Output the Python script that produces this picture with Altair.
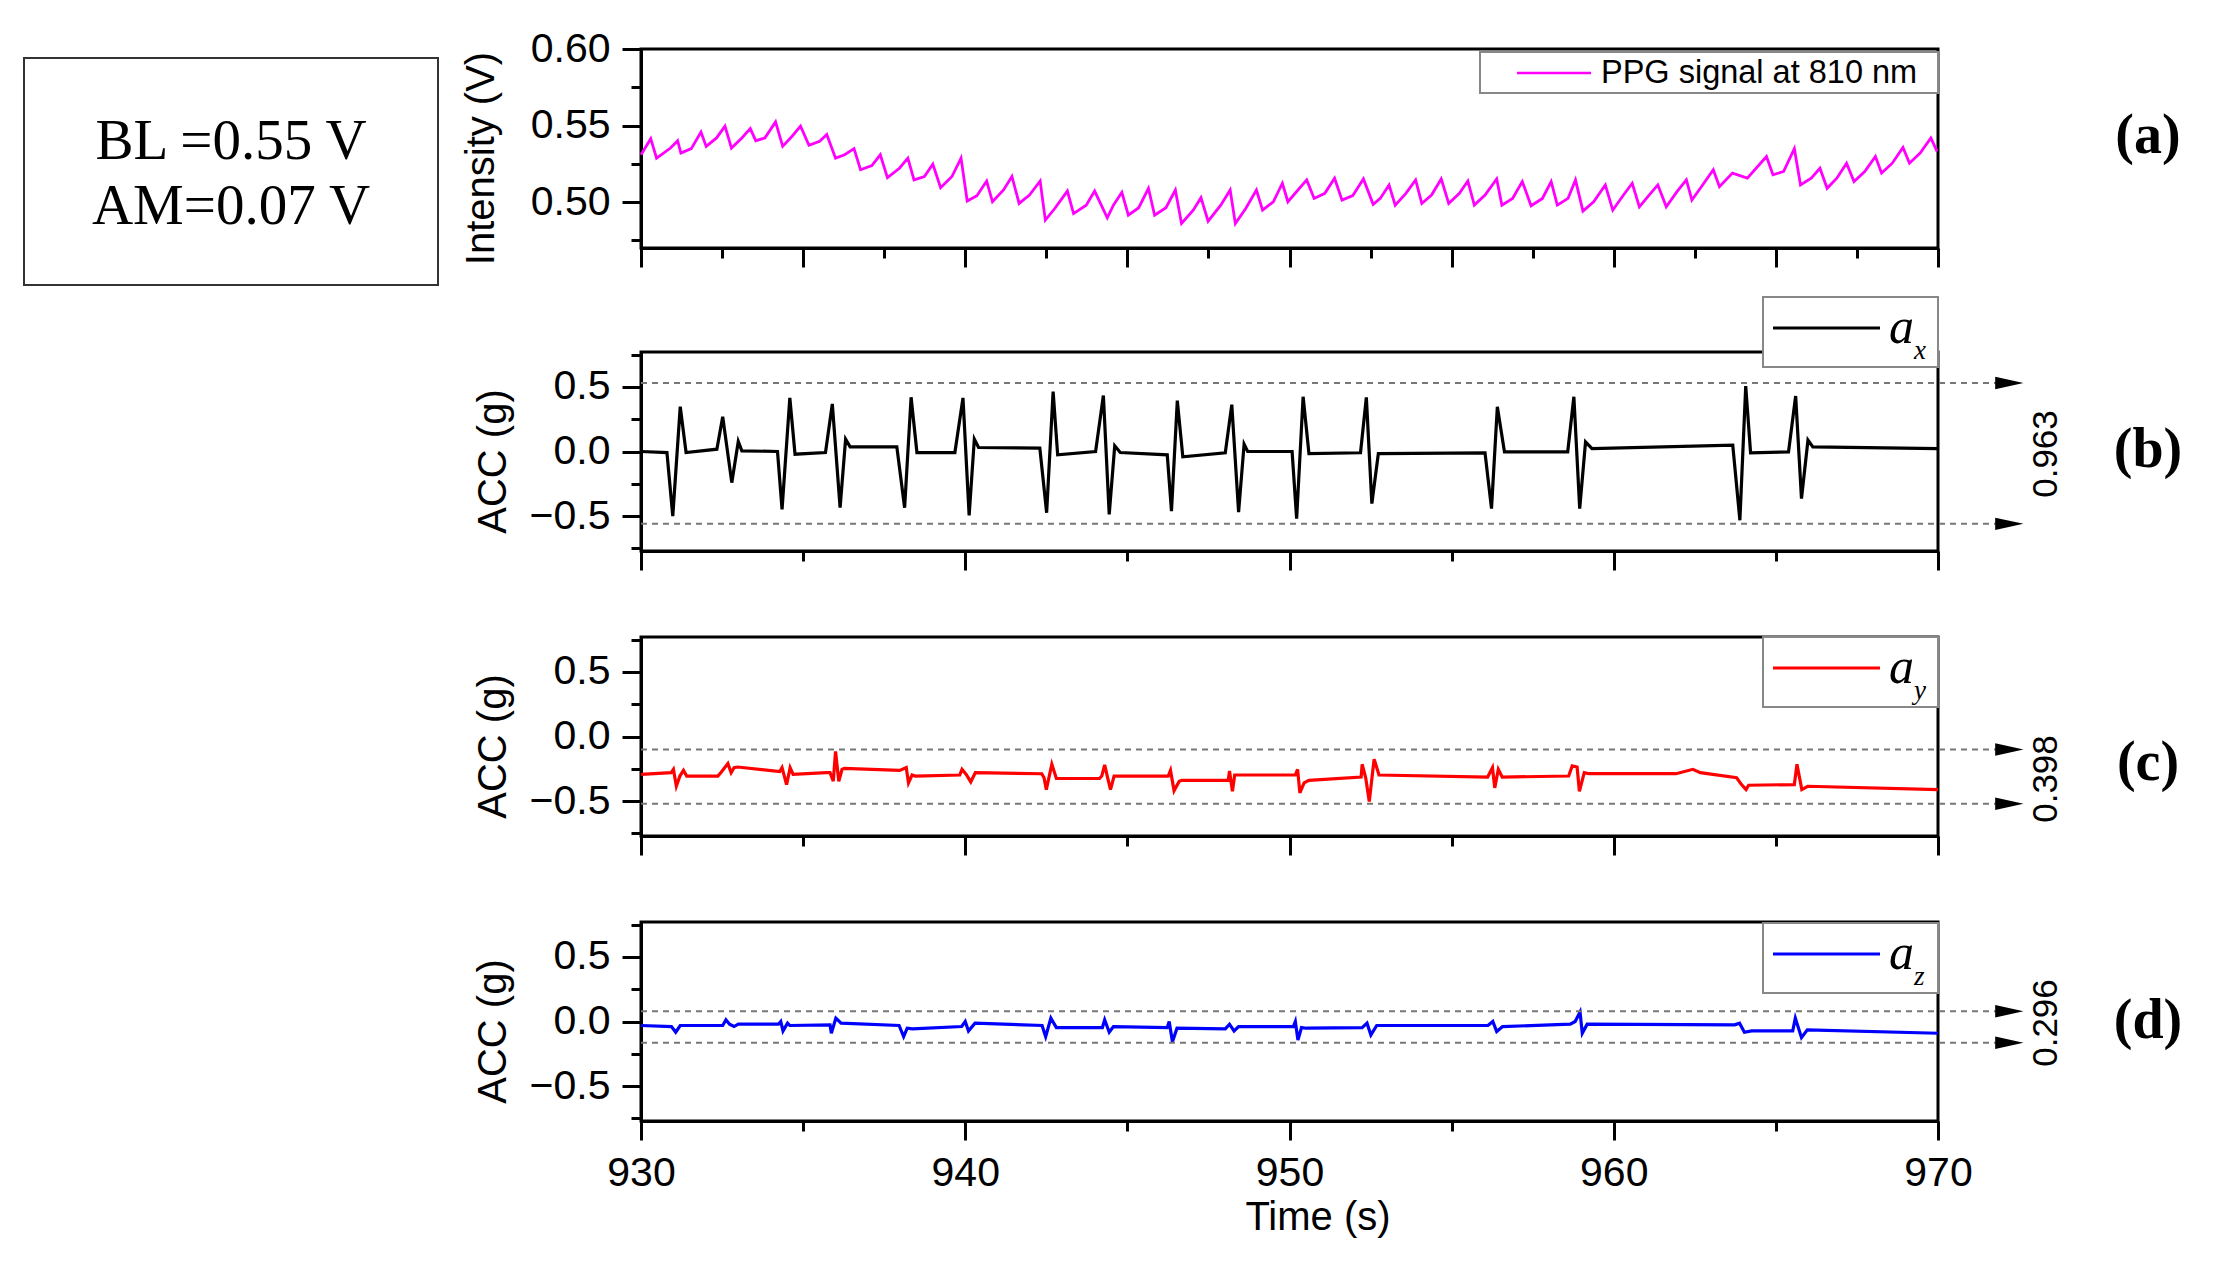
import pandas as pd
import altair as alt

# ---- data ----
ppg_t = [930.00, 930.30, 930.48, 930.91, 931.13, 931.23, 931.55, 931.85, 932.01, 932.33,
         932.59, 932.79, 933.11, 933.37, 933.54, 933.82, 934.15, 934.37, 934.66, 934.92,
         935.18, 935.51, 935.73, 936.00, 936.28, 936.57, 936.77, 937.12, 937.38, 937.60,
         937.97, 938.23, 938.42, 938.74, 939.00, 939.24, 939.59, 939.87, 940.06, 940.36,
         940.66, 940.84, 941.18, 941.44, 941.66, 941.98, 942.31, 942.47, 942.76, 943.15,
         943.34, 943.73, 943.99, 944.38, 944.57, 944.83, 945.03, 945.35, 945.65, 945.84,
         946.19, 946.48, 946.67, 947.03, 947.27, 947.49, 947.88, 948.17, 948.33, 948.65,
         948.98, 949.17, 949.50, 949.78, 949.95,
         950.53, 950.76, 951.09, 951.39, 951.62, 951.95, 952.28, 952.58, 952.80, 953.07,
         953.26, 953.59, 953.89, 954.08, 954.38, 954.68, 954.91, 955.24, 955.50, 955.70,
         956.03, 956.39, 956.55, 956.88, 957.18, 957.45, 957.80, 958.07, 958.26, 958.59,
         958.82, 959.05, 959.38, 959.74, 959.97, 960.30, 960.57, 960.79, 961.09, 961.36,
         961.62, 961.95, 962.24, 962.41, 962.67, 963.07, 963.26, 963.66, 964.12, 964.71,
         964.91, 965.24, 965.57, 965.76, 966.09, 966.36, 966.58, 966.88, 967.18, 967.41,
         967.74, 968.07, 968.26, 968.59, 968.92, 969.12, 969.45, 969.78, 969.97]
ppg_v = [0.5309, 0.5414, 0.5287, 0.5353, 0.5401, 0.5320, 0.5349, 0.5458, 0.5364, 0.5419,
         0.5496, 0.5353, 0.5419, 0.5480, 0.5401, 0.5419, 0.5524, 0.5364, 0.5430, 0.5496,
         0.5371, 0.5397, 0.5441, 0.5287, 0.5309, 0.5349, 0.5211, 0.5239, 0.5309, 0.5160,
         0.5221, 0.5287, 0.5145, 0.5167, 0.5248, 0.5094, 0.5167, 0.5287, 0.5007, 0.5042,
         0.5138, 0.5002, 0.5079, 0.5167, 0.4991, 0.5046, 0.5138, 0.4882, 0.4958, 0.5072,
         0.4925, 0.4980, 0.5072, 0.4897, 0.4980, 0.5064, 0.4914, 0.4963, 0.5090, 0.4914,
         0.4963, 0.5079, 0.4860, 0.4947, 0.5029, 0.4875, 0.4980, 0.5079, 0.4860, 0.4958,
         0.5079, 0.4947, 0.5002, 0.5123, 0.5002,
         0.5145, 0.5024, 0.5057, 0.5156, 0.5013, 0.5042, 0.5151, 0.4985, 0.5024, 0.5112,
         0.4980, 0.5057, 0.5145, 0.4991, 0.5046, 0.5151, 0.4991, 0.5057, 0.5138, 0.4980,
         0.5046, 0.5151, 0.4980, 0.5024, 0.5134, 0.4976, 0.5024, 0.5134, 0.4980, 0.5024,
         0.5145, 0.4941, 0.5002, 0.5112, 0.4947, 0.5046, 0.5123, 0.4969, 0.5046, 0.5112,
         0.4969, 0.5068, 0.5145, 0.5013, 0.5090, 0.5211, 0.5101, 0.5189, 0.5156, 0.5298,
         0.5178, 0.5200, 0.5349, 0.5112, 0.5156, 0.5221, 0.5090, 0.5156, 0.5254, 0.5134,
         0.5200, 0.5298, 0.5189, 0.5254, 0.5357, 0.5254, 0.5320, 0.5419, 0.5331]

ax_t = [930.00, 930.80, 930.98, 931.21, 931.39, 932.34, 932.52, 932.80, 933.00, 933.11,
        934.21, 934.35, 934.59, 934.75, 935.69, 935.90, 936.14, 936.31, 936.45, 937.89,
        938.13, 938.33, 938.51, 939.68, 939.93, 940.12, 940.28, 940.41, 942.30, 942.51,
        942.71, 942.85, 944.02, 944.26, 944.44, 944.61, 944.78, 946.23, 946.36, 946.54,
        946.71, 948.02, 948.22, 948.43, 948.60, 948.71, 950.08, 950.22, 950.42, 950.60,
        952.19, 952.37, 952.54, 952.74, 956.03, 956.23, 956.41, 956.63, 958.58, 958.77,
        958.95, 959.13, 959.33, 963.67, 963.89, 964.07, 964.22, 965.39, 965.61, 965.79,
        965.99, 966.14, 970.00]
ax_v = [0.000, -0.008, -0.500, 0.347, -0.008, 0.018, 0.269, -0.241, 0.078, 0.005,
        0.000, -0.448, 0.415, -0.021, -0.008, 0.368, -0.435, 0.096, 0.036, 0.036,
        -0.435, 0.420, -0.008, -0.008, 0.415, -0.495, 0.096, 0.031, 0.026, -0.474,
        0.464, -0.026, 0.000, 0.433, -0.487, 0.044, -0.008, -0.026, -0.461, 0.394,
        -0.041, -0.010, 0.363, -0.469, 0.057, 0.000, 0.000, -0.520, 0.424, -0.016,
        -0.010, 0.419, -0.403, -0.016, -0.010, -0.442, 0.346, -0.003, -0.003, 0.424,
        -0.442, 0.075, 0.023, 0.049, -0.532, 0.506, -0.010, -0.003, 0.429, -0.364,
        0.088, 0.036, 0.023]

ay_t = [930.00, 930.93, 931.00, 931.09, 931.20, 931.31, 931.41, 932.37, 932.46, 932.68,
        932.78, 932.87, 932.98, 934.28, 934.35, 934.49, 934.60, 934.69, 935.72, 935.83,
        935.93, 936.00, 936.10, 936.20, 936.27, 937.98, 938.18, 938.25, 938.36, 938.46,
        939.83, 939.90, 940.03, 940.17, 940.31, 942.36, 942.43, 942.50, 942.67, 942.81,
        944.14, 944.21, 944.30, 944.39, 944.48, 944.59, 946.26, 946.33, 946.44, 946.60,
        946.67, 948.11, 948.15, 948.24, 948.31, 950.18, 950.25, 950.32, 950.45, 950.60,
        952.21, 952.24, 952.35, 952.46, 952.61, 952.76, 956.11, 956.26, 956.33, 956.44,
        956.56, 958.61, 958.72, 958.87, 958.94, 959.09, 959.24, 961.92, 962.44, 962.67,
        963.79, 963.94, 964.08, 964.16, 965.57, 965.65, 965.80, 965.98, 970.00]
ay_v = [-0.293, -0.280, -0.254, -0.385, -0.306, -0.262, -0.306, -0.306, -0.280, -0.209,
        -0.280, -0.241, -0.236, -0.272, -0.241, -0.372, -0.241, -0.293, -0.280, -0.280,
        -0.346, -0.115, -0.346, -0.254, -0.246, -0.262, -0.241, -0.359, -0.298, -0.306,
        -0.298, -0.254, -0.293, -0.351, -0.280, -0.288, -0.319, -0.411, -0.215, -0.325,
        -0.325, -0.306, -0.220, -0.319, -0.411, -0.306, -0.306, -0.262, -0.419, -0.346,
        -0.340, -0.340, -0.267, -0.424, -0.298, -0.298, -0.254, -0.437, -0.359, -0.340,
        -0.314, -0.215, -0.319, -0.503, -0.175, -0.298, -0.314, -0.241, -0.398, -0.254,
        -0.314, -0.306, -0.228, -0.236, -0.424, -0.280, -0.288, -0.288, -0.254, -0.280,
        -0.319, -0.372, -0.411, -0.377, -0.372, -0.215, -0.411, -0.385, -0.411]

az_t = [930.00, 930.94, 931.07, 931.21, 932.52, 932.62, 932.73, 932.87, 933.00, 934.24,
        934.31, 934.38, 934.52, 934.59, 935.83, 935.87, 936.01, 936.17, 937.96, 938.10,
        938.21, 938.37, 939.89, 940.00, 940.10, 940.30, 942.37, 942.48, 942.64, 942.81,
        944.23, 944.30, 944.44, 944.57, 946.23, 946.29, 946.39, 946.53, 948.02, 948.15,
        948.29, 948.43, 950.12, 950.18, 950.26, 950.37, 950.52, 952.24, 952.39, 952.51,
        952.69, 956.12, 956.27, 956.39, 956.57, 958.66, 958.81, 958.96, 959.03, 959.18,
        963.73, 963.88, 964.03, 964.25, 965.52, 965.60, 965.79, 965.97, 970.00]
az_v = [-0.031, -0.039, -0.083, -0.031, -0.031, 0.013, -0.021, -0.039, -0.021, -0.021,
        0.000, -0.073, -0.013, -0.031, -0.026, -0.091, 0.026, -0.013, -0.031, -0.117,
        -0.052, -0.057, -0.039, 0.000, -0.073, -0.013, -0.031, -0.117, 0.026, -0.047,
        -0.047, 0.013, -0.083, -0.039, -0.047, 0.000, -0.156, -0.052, -0.057, -0.021,
        -0.073, -0.039, -0.039, 0.000, -0.143, -0.047, -0.052, -0.047, -0.013, -0.104,
        -0.031, -0.031, 0.000, -0.078, -0.039, -0.021, 0.000, 0.073, -0.091, -0.021,
        -0.026, -0.013, -0.083, -0.073, -0.073, 0.026, -0.125, -0.065, -0.091]

# dashed reference levels and their spans
ax_band = [0.53, -0.56]
ay_band = [-0.10, -0.52]
az_band = [0.08, -0.165]
ax_span = "0.963"
ay_span = "0.398"
az_span = "0.296"

x_ticks_a = [930 + 2.5 * i for i in range(17)]
x_ticks = [930 + 5 * i for i in range(9)]
ppg_ticks = [0.475, 0.50, 0.525, 0.55, 0.575, 0.60]
acc_ticks = [-0.75, -0.5, -0.25, 0.0, 0.25, 0.5, 0.75]

box_lines = ["BL =0.55 V", "AM=0.07 V"]
ppg_name = "PPG signal at 810 nm"
panel_tags = ["(a)", "(b)", "(c)", "(d)"]

SANS = "Liberation Sans"
SERIF = "Liberation Serif"
W, H = 1297, 199
XS = alt.Scale(domain=[930, 970], nice=False, zero=False)
ACC_DOM = [-0.77, 0.77]
ARROW = "M-1,-0.44L1,0L-1,0.44Z"


def one(text):
    return alt.Chart(pd.DataFrame({"s": [text]}))


def txt(text, x, y, **kw):
    return one(text).mark_text(**kw).encode(x=alt.value(x), y=alt.value(y), text="s:N")


def x_axis(values, major, labels, title=None):
    test = f"abs(datum.value % {major}) < 0.001"
    return alt.Axis(values=values, grid=False, labels=labels, labelOverlap=False,
                    labelFlush=False,
                    tickSize={"condition": {"test": test, "value": 19}, "value": 10},
                    labelExpr=f"{test} ? datum.label : ''", labelPadding=13,
                    title=title, titleX=W / 2 + 28, titleY=96, titleBaseline="middle")


def y_axis(values, mult, fmt, title, tx):
    test = f"abs(datum.value * {mult} - round(datum.value * {mult})) < 0.001"
    return alt.Axis(values=values, grid=False, format=fmt, labelOverlap=False,
                    labelFlush=False,
                    tickSize={"condition": {"test": test, "value": 19}, "value": 10},
                    labelExpr=f"{test} ? datum.label : ''", labelPadding=12,
                    title=title, titleX=tx, titleY=109, titleAngle=270,
                    titleBaseline="middle", titleAlign="center")


def legend(color, sub, top):
    box = one("").mark_rect(fill="white", stroke="#888888", strokeWidth=2).encode(
        x=alt.value(W - 175), x2=alt.value(W), y=alt.value(top), y2=alt.value(top + 70))
    ln = one("").mark_rule(color=color, strokeWidth=3).encode(
        x=alt.value(W - 165), x2=alt.value(W - 58), y=alt.value(top + 31))
    a = txt("a", W - 49, top + 46, font=SERIF, fontStyle="italic", fontSize=50,
            align="left", baseline="alphabetic")
    s = txt(sub, W - 24, top + 62, font=SERIF, fontStyle="italic", fontSize=27,
            align="left", baseline="alphabetic")
    return [box, ln, a, s]


def acc_panel(t, v, color, sub, band, span, tag, span_y, tag_y, leg_top, last):
    df = pd.DataFrame({"t": t, "v": v})
    ys = alt.Scale(domain=ACC_DOM, nice=False)
    line = alt.Chart(df).mark_line(color=color, strokeWidth=3.2).encode(
        x=alt.X("t:Q", scale=XS,
                axis=x_axis(x_ticks, 10, last, "Time (s)" if last else None)),
        y=alt.Y("v:Q", scale=ys, axis=y_axis(acc_ticks, 2, ".1f", "ACC (g)", -148)),
    )
    bdf = pd.DataFrame({"level": band})
    dash = alt.Chart(bdf).mark_rule(color="#777777", strokeWidth=2, strokeDash=[6, 5]).encode(
        x=alt.XDatum(930, scale=XS, axis=None), x2=alt.X2Datum(971.9),
        y=alt.Y("level:Q", scale=ys, axis=None))
    head = alt.Chart(bdf).mark_point(shape=ARROW, filled=True, size=800, color="black",
                                     opacity=1).encode(
        x=alt.XDatum(972.2, scale=XS, axis=None), y=alt.Y("level:Q", scale=ys, axis=None))
    lab = txt(span, W + 108, span_y, font=SANS, fontSize=35, angle=270,
              align="center", baseline="middle")
    tg = txt(tag, W + 210, tag_y, font=SERIF, fontWeight="bold", fontSize=56,
             align="center", baseline="middle")
    return alt.layer(line, dash, head, lab, tg, *legend(color, sub, leg_top)
                     ).resolve_axis(x="independent", y="independent"
                     ).properties(width=W, height=H)


# panel (a)
ppg = alt.Chart(pd.DataFrame({"t": ppg_t, "v": ppg_v})).mark_line(
    color="#ff00ff", strokeWidth=2.8).encode(
    x=alt.X("t:Q", scale=XS, axis=x_axis(x_ticks_a, 5, False)),
    y=alt.Y("v:Q", scale=alt.Scale(domain=[0.47, 0.60], nice=False, zero=False),
            axis=y_axis(ppg_ticks, 20, ".2f", "Intensity (V)", -160)),
)
pa = alt.layer(
    ppg,
    one("").mark_rect(fill="white", stroke="#888888", strokeWidth=2).encode(
        x=alt.value(W - 458), x2=alt.value(W), y=alt.value(3), y2=alt.value(44)),
    one("").mark_rule(color="#ff00ff", strokeWidth=2.6).encode(
        x=alt.value(W - 421), x2=alt.value(W - 347), y=alt.value(24)),
    txt(ppg_name, W - 337, 24, font=SANS, fontSize=32.5, align="left", baseline="middle"),
    one("").mark_rect(fill="white", stroke="#333333", strokeWidth=2).encode(
        x=alt.value(-617), x2=alt.value(-203), y=alt.value(9), y2=alt.value(236)),
    txt(box_lines[0], -410, 110, font=SERIF, fontSize=57, align="center", baseline="alphabetic"),
    txt(box_lines[1], -410, 175, font=SERIF, fontSize=57, align="center", baseline="alphabetic"),
    txt(panel_tags[0], W + 210, 87, font=SERIF, fontWeight="bold", fontSize=56,
        align="center", baseline="middle"),
).properties(width=W, height=H)

pb = acc_panel(ax_t, ax_v, "black", "x", ax_band, ax_span, panel_tags[1], 102, 98, -55, False)
pc = acc_panel(ay_t, ay_v, "#ff0000", "y", ay_band, ay_span, panel_tags[2], 142, 126, 0, False)
pd_ = acc_panel(az_t, az_v, "#0000ff", "z", az_band, az_span, panel_tags[3], 101, 99, 1, True)

chart = alt.vconcat(
    pa,
    alt.vconcat(pb, pc, pd_, spacing=86, bounds="flush"),
    spacing=104, bounds="flush",
).properties(
    padding={"left": 13, "top": 18, "right": 5, "bottom": 5},
    background="white",
).configure_axis(
    domainColor="black", domainWidth=3, tickColor="black", tickWidth=3,
    labelFont=SANS, labelFontSize=41, labelColor="black",
    titleFont=SANS, titleFontSize=40, titleFontWeight="normal", titleColor="black",
).configure_view(stroke="black", strokeWidth=3)

chart.save("out.html", embed_options={"renderer": "svg", "actions": False})
